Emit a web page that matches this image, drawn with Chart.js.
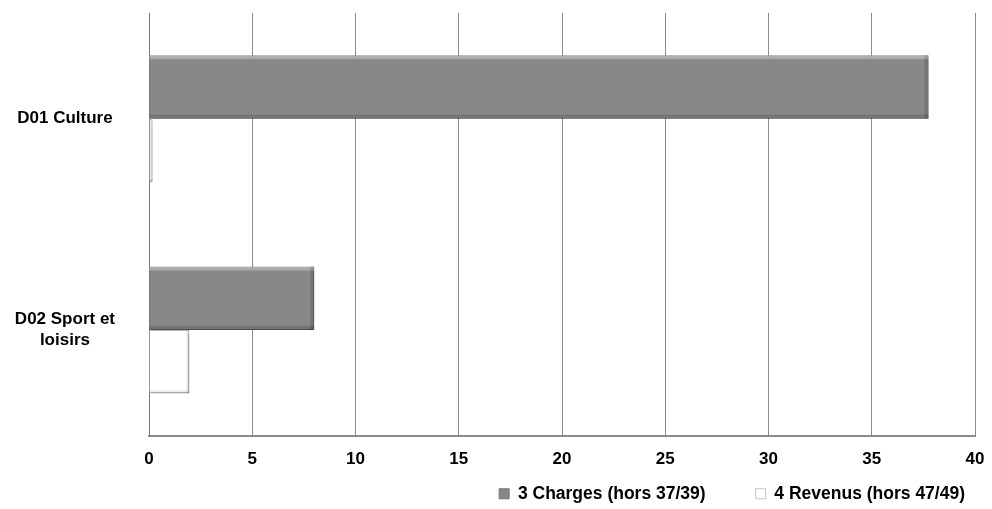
<!DOCTYPE html>
<html>
<head>
<meta charset="utf-8">
<script src="https://cdn.jsdelivr.net/npm/chart.js@4/dist/chart.umd.min.js"></script>
<style>
  html, body { margin: 0; padding: 0; background: #ffffff; }
  #wrap { width: 992px; height: 509px; position: relative; }
</style>
</head>
<body>
<div id="wrap"><canvas id="c" width="992" height="509"></canvas></div>
<script>
const categories = ['D01 Culture', ['D02 Sport et', 'loisirs']];
const seriesNames = ['3 Charges (hors 37/39)', '4 Revenus (hors 47/49)'];
const charges = [37.75, 8.0];
const revenus = [0.17, 1.95];
const xTicks = [0, 5, 10, 15, 20, 25, 30, 35, 40];

const FONT = 'Liberation Sans, Arial, Helvetica, sans-serif';
const LEGEND_GAP = 50;

const shadowPlugin = {
  id: 'shadowBevel',
  beforeDatasetDraw(chart, args) {
    const ctx = chart.ctx;
    ctx.save();
    ctx.shadowColor = 'rgba(0,0,0,0.35)';
    ctx.shadowBlur = 4;
    ctx.shadowOffsetX = 1.5;
    ctx.shadowOffsetY = 2;
  },
  afterDatasetDraw(chart, args) {
    const ctx = chart.ctx;
    ctx.restore();
    const meta = args.meta;
    meta.data.forEach(el => {
      const p = el.getProps(['x', 'y', 'base', 'height'], true);
      const left = Math.min(p.x, p.base), right = Math.max(p.x, p.base);
      const top = p.y - p.height / 2, bottom = p.y + p.height / 2;
      const w = right - left;
      if (w < 1) return;
      ctx.save();
      if (args.index === 0) {
        ctx.fillStyle = 'rgba(255,255,255,0.28)';
        ctx.fillRect(left, top, w, 4);
        ctx.fillStyle = 'rgba(0,0,0,0.14)';
        ctx.fillRect(left, bottom - 4, w, 4);
        ctx.fillRect(right - 4, top, 4, bottom - top);
      } else {
        ctx.fillStyle = 'rgba(0,0,0,0.08)';
        ctx.fillRect(left, bottom - 3, w, 3);
        ctx.fillRect(Math.max(left, right - 3), top, Math.min(3, w), bottom - top);
      }
      ctx.restore();
    });
  }
};

const legendPlacePlugin = {
  id: 'legendPlace',
  beforeLayout(chart) {
    const lg = chart.legend;
    if (lg && !lg._patched) {
      const orig = lg.fit.bind(lg);
      lg.fit = function () { orig(); this.height = 25; };
      lg._patched = true;
    }
  },
  afterLayout(chart) {
    const lg = chart.legend;
    if (lg) {
      lg.top = 495 - 10 - LEGEND_GAP;
      lg.right = 965 + LEGEND_GAP;
    }
  }
};

new Chart(document.getElementById('c'), {
  type: 'bar',
  data: {
    labels: categories,
    datasets: [
      {
        label: seriesNames[0],
        data: charges,
        backgroundColor: '#888888',
        borderColor: '#747474',
        borderWidth: 1
      },
      {
        label: seriesNames[1],
        data: revenus,
        backgroundColor: '#ffffff',
        borderColor: '#c4c4c4',
        borderWidth: 1
      }
    ]
  },
  options: {
    indexAxis: 'y',
    responsive: false,
    animation: false,
    devicePixelRatio: 1,
    layout: { padding: { top: 13, right: 17, left: 0, bottom: 0 } },
    datasets: { bar: { categoryPercentage: 0.6, barPercentage: 1.0 } },
    scales: {
      x: {
        min: 0, max: 40,
        afterBuildTicks(axis) { axis.ticks = xTicks.map(v => ({ value: v })); },
        afterFit(axis) { axis.paddingLeft = 0; axis.paddingRight = 0; },
        grid: { color: '#8c8c8c', lineWidth: 1, drawTicks: false },
        border: { color: '#8c8c8c', width: 2 },
        ticks: {
          color: '#000',
          padding: 14,
          font: { family: FONT, size: 17, weight: 'bold' }
        }
      },
      y: {
        afterFit(axis) { axis.width = 149; axis.paddingTop = 0; axis.paddingBottom = 0; },
        grid: { display: false, drawTicks: false },
        border: { color: '#7a7a7a', width: 1 },
        ticks: {
          color: '#000',
          padding: 34,
          crossAlign: 'center',
          font: { family: FONT, size: 17, weight: 'bold' }
        }
      }
    },
    plugins: {
      legend: {
        position: 'bottom',
        align: 'end',
        labels: {
          color: '#000',
          boxWidth: 10,
          boxHeight: 10,
          padding: LEGEND_GAP,
          font: { family: FONT, size: 17.5, weight: 'bold' }
        }
      },
      tooltip: { enabled: false }
    }
  },
  plugins: [shadowPlugin, legendPlacePlugin]
});
</script>
</body>
</html>
